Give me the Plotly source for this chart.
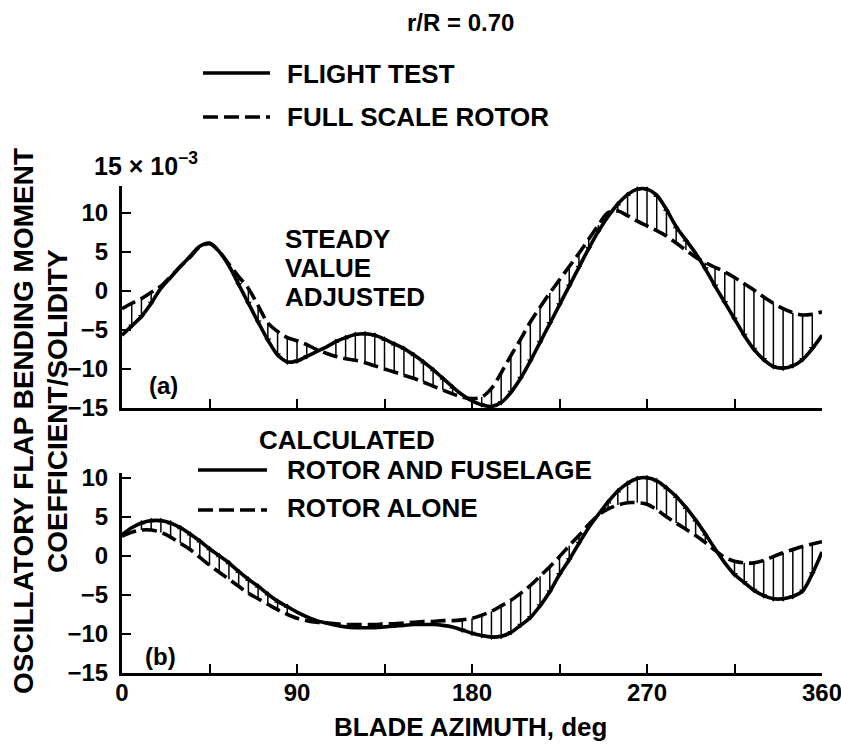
import plotly.graph_objects as go

# ---------------- data ----------------
AZIMUTH = [0, 5, 10, 15, 20, 25, 30, 35, 40, 45, 50, 55, 60, 65, 70, 75, 80, 85, 90,
           95, 100, 105, 110, 115, 120, 125, 130, 135, 140, 145, 150, 155, 160, 165, 170, 175, 180,
           185, 190, 195, 200, 205, 210, 215, 220, 225, 230, 235, 240, 245, 250, 255, 260, 265, 270,
           275, 280, 285, 290, 295, 300, 305, 310, 315, 320, 325, 330, 335, 340, 345, 350, 355, 360]

# (a) steady value adjusted
FLIGHT_TEST = [-5.7, -4.5, -3.3, -1.6, 0.3, 1.7, 3.1, 4.4, 5.7, 6.1, 5.0, 3.2, 0.8, -1.6, -4.0, -6.3, -8.2, -9.1, -9.0,
               -8.4, -7.8, -7.2, -6.5, -6.0, -5.6, -5.5, -5.7, -6.2, -6.8, -7.4, -8.2, -9.1, -10.1, -11.2, -12.3, -13.3, -14.1,
               -14.6, -14.8, -14.3, -13.0, -11.2, -9.0, -6.6, -4.2, -1.8, 0.6, 3.0, 5.4, 7.6, 9.5, 11.1, 12.3, 13.0, 13.0,
               12.2, 10.4, 8.2, 6.5, 4.8, 2.8, 0.6, -1.5, -3.6, -5.7, -7.5, -8.8, -9.7, -9.9, -9.6, -8.8, -7.4, -5.7]
FULL_SCALE_ROTOR = [-2.3, -1.6, -1.0, -0.2, 0.6, 1.8, 3.1, 4.3, 5.6, 6.0, 5.0, 3.4, 1.8, 0.3, -1.9, -4.1, -5.2, -6.0, -6.4,
                    -6.9, -7.5, -8.0, -8.4, -8.7, -8.9, -9.2, -9.6, -10.0, -10.4, -10.8, -11.2, -11.7, -12.2, -12.7, -13.2, -13.6, -13.8,
                    -13.6, -12.5, -10.5, -8.3, -6.2, -4.0, -2.1, -0.3, 1.4, 3.1, 4.8, 6.6, 8.4, 10.0, 10.2, 9.6, 8.9, 8.3,
                    7.7, 7.0, 6.1, 5.2, 4.3, 3.6, 3.0, 2.4, 1.7, 0.9, 0.1, -0.8, -1.6, -2.3, -2.8, -3.1, -3.0, -2.7]

# (b) calculated
ROTOR_AND_FUSELAGE = [2.7, 3.6, 4.2, 4.5, 4.5, 4.2, 3.6, 2.8, 1.9, 0.9, 0.0, -0.9, -2.0, -3.0, -3.9, -4.9, -5.8, -6.5, -7.2,
                      -7.8, -8.3, -8.6, -8.9, -9.1, -9.2, -9.2, -9.2, -9.1, -9.0, -8.9, -8.8, -8.8, -8.8, -8.9, -9.1, -9.5, -9.9,
                      -10.2, -10.4, -10.3, -9.8, -8.9, -7.9, -6.4, -4.6, -2.4, -0.5, 1.6, 3.6, 5.3, 6.9, 8.3, 9.3, 9.9, 10.0,
                      9.6, 8.7, 7.6, 6.2, 4.6, 2.8, 0.9, -0.9, -2.4, -3.4, -4.4, -5.1, -5.5, -5.5, -5.2, -4.5, -2.3, 0.5]
ROTOR_ALONE = [2.5, 3.0, 3.3, 3.3, 3.0, 2.4, 1.6, 0.8, -0.2, -1.2, -2.1, -3.0, -3.9, -4.8, -5.5, -6.2, -6.9, -7.5, -8.0,
               -8.3, -8.5, -8.6, -8.7, -8.8, -8.8, -8.8, -8.8, -8.7, -8.7, -8.6, -8.5, -8.4, -8.4, -8.3, -8.3, -8.2, -8.0,
               -7.6, -7.1, -6.4, -5.7, -4.8, -3.8, -2.6, -1.4, -0.1, 1.3, 2.6, 4.0, 5.2, 6.0, 6.5, 6.8, 6.8, 6.6,
               5.9, 5.0, 4.2, 3.4, 2.6, 1.7, 0.7, -0.2, -0.7, -0.9, -0.9, -0.6, -0.1, 0.4, 0.8, 1.2, 1.5, 1.8]

X_TICKS = [0, 90, 180, 270, 360]
X_TICK_TEXT = ["0", "90", "180", "270", "360"]
X_MINOR_STEP = 45
Y_TICKS = [-15, -10, -5, 0, 5, 10]
Y_TICK_TEXT = ["\u221215", "\u221210", "\u22125", "0", "5", "10"]

# ---------------- figure ----------------
W, H = 841, 746
FONT = "Liberation Sans, Arial, sans-serif"
LW = 3.6
DASH = "15px,6px"


def px(x):
    return x / W


def py(y):
    return 1 - y / H


fig = go.Figure()


def add_panel(xa, ya, solid, dashed):
    # hatch: vertical arrows from dashed to solid
    hx, hy, ax, ay, sym = [], [], [], [], []
    for x, s, d in zip(AZIMUTH, solid, dashed):
        if abs(s - d) >= 0.8 and 0 < x < 360:
            hx += [x, x, None]
            hy += [d, s, None]
            ax.append(x)
            ay.append(s)
            sym.append("triangle-down" if s < d else "triangle-up")
    fig.add_trace(go.Scatter(x=hx, y=hy, mode="lines", line=dict(color="black", width=1.5),
                             xaxis=xa, yaxis=ya, showlegend=False, hoverinfo="skip"))
    fig.add_trace(go.Scatter(x=ax, y=ay, mode="markers",
                             marker=dict(symbol=sym, size=6, color="black"),
                             xaxis=xa, yaxis=ya, showlegend=False, hoverinfo="skip"))
    fig.add_trace(go.Scatter(x=AZIMUTH, y=dashed, mode="lines", line=dict(color="black", width=LW, dash=DASH, shape="spline"),
                             xaxis=xa, yaxis=ya, showlegend=False))
    fig.add_trace(go.Scatter(x=AZIMUTH, y=solid, mode="lines", line=dict(color="black", width=LW, shape="spline"),
                             xaxis=xa, yaxis=ya, showlegend=False))


add_panel("x", "y", FLIGHT_TEST, FULL_SCALE_ROTOR)
add_panel("x2", "y2", ROTOR_AND_FUSELAGE, ROTOR_ALONE)

axis_common = dict(showline=True, linecolor="black", linewidth=3, showgrid=False, zeroline=False,
                   ticks="inside", tickcolor="black", tickwidth=2, ticklen=9, automargin=False)
minor_x = dict(tick0=0, dtick=X_MINOR_STEP, ticks="inside", ticklen=9, tickwidth=2, tickcolor="black", showgrid=False)
tickfont = dict(family=FONT, size=24, color="black", weight="bold")

XDOM = [px(122), px(822)]
fig.update_layout(
    width=W, height=H, margin=dict(l=0, r=0, t=0, b=0, pad=0, autoexpand=False),
    paper_bgcolor="white", plot_bgcolor="rgba(0,0,0,0)",
    xaxis=dict(domain=XDOM, range=[0, 360], tickvals=X_TICKS, showticklabels=False, minor=minor_x,
               anchor="y", **axis_common),
    yaxis=dict(domain=[py(408), py(186)], range=[-15, 13.4], tickvals=Y_TICKS, ticktext=Y_TICK_TEXT,
               tickfont=tickfont, anchor="x", ticklabelstandoff=6, **axis_common),
    xaxis2=dict(domain=XDOM, range=[0, 360], tickvals=X_TICKS, ticktext=X_TICK_TEXT, minor=minor_x,
                tickfont=dict(family=FONT, size=24, color="black", weight="bold"),
                anchor="y2", ticklabelstandoff=-4, ticklabeloverflow="allow", **axis_common),
    yaxis2=dict(domain=[py(673), py(473)], range=[-15, 10.6], tickvals=Y_TICKS, ticktext=Y_TICK_TEXT,
                tickfont=tickfont, anchor="x2", ticklabelstandoff=6, **axis_common),
    showlegend=False,
)


def label(text, x, y, size=26, xanchor="left", angle=0):
    fig.add_annotation(text=text, x=px(x), y=py(y), xref="paper", yref="paper",
                       xanchor=xanchor, yanchor="middle", showarrow=False, textangle=angle,
                       font=dict(family=FONT, size=size, color="black", weight="bold"))


def legend_line(x0, x1, y, dash=None):
    fig.add_shape(type="line", xref="paper", yref="paper", x0=px(x0), x1=px(x1), y0=py(y), y1=py(y),
                  line=dict(color="black", width=LW, dash=dash if dash else "solid"))


label("r/R = 0.70", 460, 22, size=24, xanchor="center")
legend_line(203, 270, 73)
label("FLIGHT TEST", 285, 74)
legend_line(203, 270, 117, DASH)
label("FULL SCALE ROTOR", 285, 117)

label("15 \u00d7 10<sup>\u22123</sup>", 92, 164, size=25)
label("STEADY", 283, 239)
label("VALUE", 283, 268)
label("ADJUSTED", 283, 297)
label("(a)", 163, 385, size=24, xanchor="center")

label("CALCULATED", 257, 440)
legend_line(198, 267, 470)
label("ROTOR AND FUSELAGE", 285, 470)
legend_line(198, 267, 510, DASH)
label("ROTOR ALONE", 285, 508)
label("(b)", 160, 656, size=24, xanchor="center")

label("BLADE AZIMUTH, deg", 470, 727, size=26, xanchor="center")
label("OSCILLATORY FLAP BENDING MOMENT", 23, 421, size=28, xanchor="center", angle=-90)
label("COEFFICIENT/SOLIDITY", 57, 411, size=28, xanchor="center", angle=-90)

fig.write_html("out.html")
